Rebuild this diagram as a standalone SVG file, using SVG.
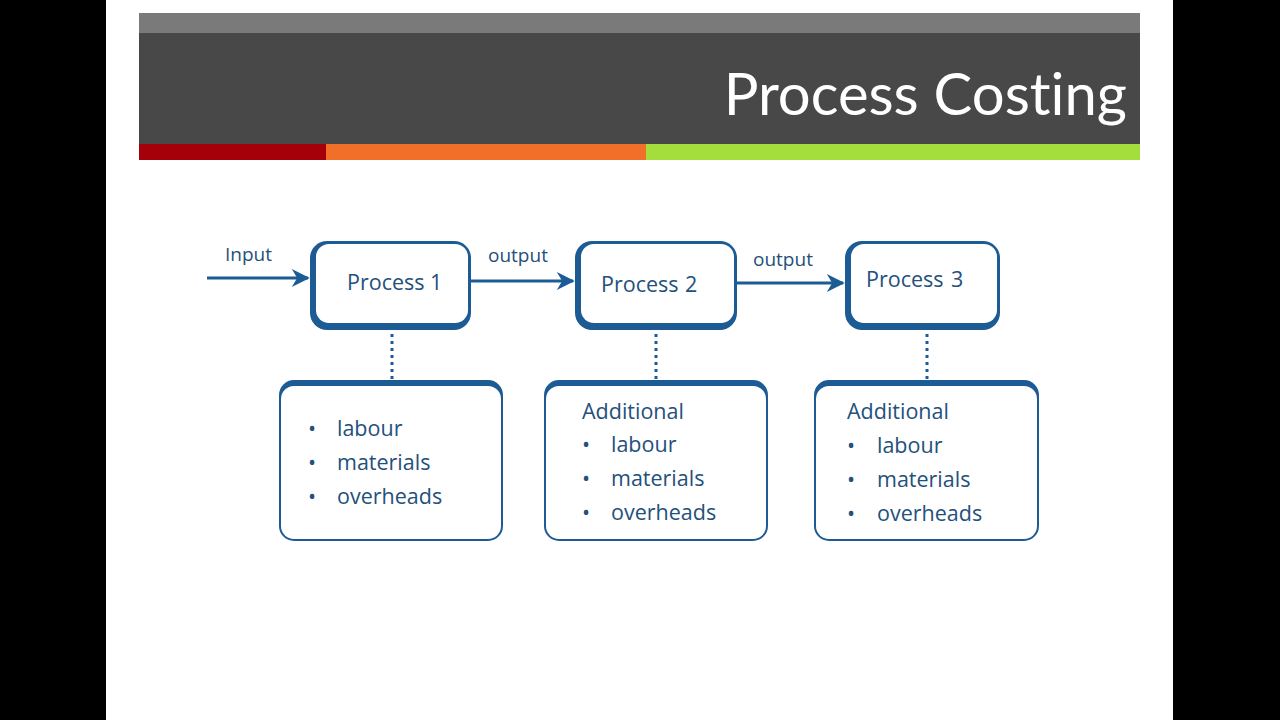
<svg xmlns="http://www.w3.org/2000/svg" width="1280" height="720" viewBox="0 0 1280 720">
<defs>
<style>
.pb{fill:#1d5b95}
.in{fill:#ffffff}
.lbl{font-family:"Open Sans","Noto Sans",sans-serif;font-size:19px;fill:#24507c}
.item{font-family:"Open Sans","Noto Sans",sans-serif;font-size:21.5px;fill:#24507c}
.con{stroke:#1d5b95;stroke-width:3;fill:none}
.dot{stroke:#1d5b95;stroke-width:3;stroke-dasharray:3 4;fill:none}
</style>
<marker id="ah" viewBox="0 0 10 10" refX="9" refY="5" markerWidth="9" markerHeight="6" markerUnits="strokeWidth" orient="auto">
<path d="M0,0 L10,5 L0,10 L3,5 Z" fill="#1d5b95"/>
</marker>
</defs>
<rect x="0" y="0" width="1280" height="720" fill="#000"/>
<rect x="106" y="0" width="1067" height="720" fill="#fff"/>
<g id="header">
<rect x="139" y="13" width="1001" height="21" fill="#7a7a7a"/>
<rect x="139" y="33" width="1001" height="111" fill="#484848"/>
<rect x="139" y="144" width="187" height="16" fill="#a50009"/>
<rect x="326" y="144" width="320" height="16" fill="#f26f2a"/>
<rect x="646" y="144" width="494" height="16" fill="#a3de3c"/>
<text x="1127" y="115" text-anchor="end" font-family="Lato,'Open Sans',sans-serif" font-size="58" fill="#fff" style="font-variant-ligatures:none">Process Costing</text>
</g>
<g id="connectors">
<line class="con" x1="207" y1="278" x2="308" y2="278" marker-end="url(#ah)"/>
<line class="con" x1="471" y1="281" x2="573" y2="281" marker-end="url(#ah)"/>
<line class="con" x1="737" y1="283" x2="843" y2="283" marker-end="url(#ah)"/>
<line class="dot" x1="392" y1="334" x2="392" y2="380"/>
<line class="dot" x1="656" y1="334" x2="656" y2="380"/>
<line class="dot" x1="927" y1="334" x2="927" y2="380"/>
<text class="lbl" x="225" y="261">Input</text>
<text class="lbl" x="488" y="262">output</text>
<text class="lbl" x="753" y="266">output</text>
</g>
<g id="process1">
<rect class="pb" x="310" y="241" width="161" height="89" rx="17"/>
<rect class="in" x="316" y="244" width="152" height="79" rx="13"/>
<text class="item" x="347" y="290">Process</text><text class="item" x="430" y="290">1</text>
</g>
<g id="process2">
<rect class="pb" x="575" y="241" width="162" height="89" rx="17"/>
<rect class="in" x="581" y="244" width="153" height="79" rx="13"/>
<text class="item" x="601" y="292">Process</text><text class="item" x="685" y="292">2</text>
</g>
<g id="process3">
<rect class="pb" x="845" y="241" width="155" height="89" rx="17"/>
<rect class="in" x="851" y="244" width="146" height="79" rx="13"/>
<text class="item" x="866" y="287">Process</text><text class="item" x="951" y="287">3</text>
</g>
<g id="costs1">
<rect class="pb" x="279" y="380" width="224" height="161" rx="15"/>
<rect class="in" x="281" y="386" width="220" height="153" rx="13"/>
<text class="item" x="308" y="436">•</text><text class="item" x="337" y="436">labour</text>
<text class="item" x="308" y="470">•</text><text class="item" x="337" y="470">materials</text>
<text class="item" x="308" y="504">•</text><text class="item" x="337" y="504">overheads</text>
</g>
<g id="costs2">
<rect class="pb" x="544" y="380" width="224" height="161" rx="15"/>
<rect class="in" x="546" y="386" width="220" height="153" rx="13"/>
<text class="item" x="582" y="419">Additional</text>
<text class="item" x="582" y="452">•</text><text class="item" x="611" y="452">labour</text>
<text class="item" x="582" y="486">•</text><text class="item" x="611" y="486">materials</text>
<text class="item" x="582" y="520">•</text><text class="item" x="611" y="520">overheads</text>
</g>
<g id="costs3">
<rect class="pb" x="814" y="380" width="225" height="161" rx="15"/>
<rect class="in" x="816" y="386" width="221" height="153" rx="13"/>
<text class="item" x="847" y="419">Additional</text>
<text class="item" x="847" y="453">•</text><text class="item" x="877" y="453">labour</text>
<text class="item" x="847" y="487">•</text><text class="item" x="877" y="487">materials</text>
<text class="item" x="847" y="521">•</text><text class="item" x="877" y="521">overheads</text>
</g>
</svg>
